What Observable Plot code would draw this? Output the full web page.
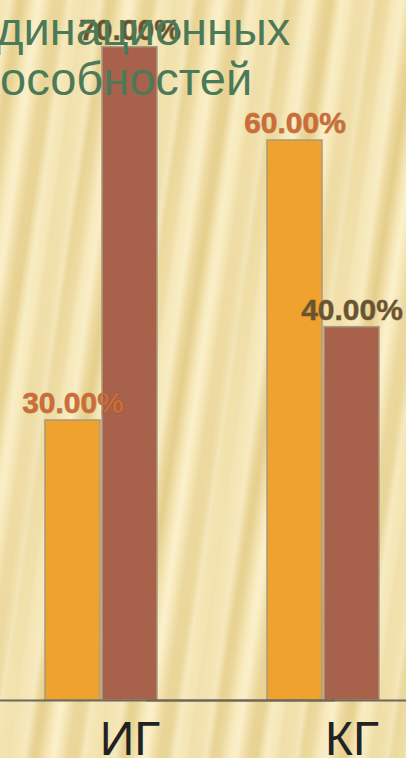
<!DOCTYPE html>
<html><head><meta charset="utf-8">
<script src="https://cdn.jsdelivr.net/npm/d3@7"></script>
<script src="https://cdn.jsdelivr.net/npm/@observablehq/plot@0.6"></script>
<style>
html,body{margin:0;padding:0;width:406px;height:758px;overflow:hidden;}
body{background:
  repeating-linear-gradient(98deg, rgba(255,250,225,0.0) 0px, rgba(255,250,225,0.45) 9px, rgba(255,250,225,0) 16px, rgba(200,170,90,0.12) 23px, rgba(255,250,225,0) 30px),
  repeating-linear-gradient(99deg, #f5e6b5 0px, #eedaa0 12px, #e8d393 20px, #f2e1ab 29px, #f7e9bb 37px, #f5e6b5 44px);}
#wrap{position:relative;width:406px;height:758px;overflow:hidden;}
#chart{position:absolute;left:0;top:0;width:481px;}
#chart svg{max-width:none !important;}
.t{position:absolute;font-family:"Liberation Sans",Arial,sans-serif;font-size:47px;color:#4c7a58;white-space:nowrap;line-height:1;}
</style></head><body>
<div id="wrap"><div id="chart"></div>
<div class="t" id="t1"><span class="pre">коор</span>динационных</div>
<div class="t" id="t2"><span class="pre">сп</span>особностей</div>
</div>
<script>
const groups = ["ИГ", "КГ"];
const slots = ["s1", "s2", "s3"];      // третья позиция в группе пустая
const seriesOrange = [30, 60];
const seriesBrown = [70, 40];

const data = groups.flatMap((g, i) => [
  {g, s: "s1", v: seriesOrange[i]},
  {g, s: "s2", v: seriesBrown[i]}
]);

const labelStyle = {fx: "g", x: "s", y: "v", text: d => d.v.toFixed(2) + "%", dy: -17,
  fontSize: 30, fontWeight: "bold", fontFamily: "Liberation Sans, Arial, sans-serif",
  stroke: "rgba(90,80,60,0.45)", strokeWidth: 1, paintOrder: "stroke"};

const chart = Plot.plot({
  width: 481, height: 758,
  marginLeft: 0, marginRight: 0, marginTop: 0, marginBottom: 58,
  style: {background: "transparent", overflow: "visible", maxWidth: "none"},
  fx: {domain: groups, paddingInner: 0.23, paddingOuter: 0.198, label: null},
  x: {domain: slots, paddingInner: 0.035, paddingOuter: 0, axis: null},
  y: {domain: [0, 75], axis: null},
  color: {domain: ["s1", "s2"], range: ["#efa22e", "#a8614b"]},
  marks: [
    Plot.barY(data, {fx: "g", x: "s", y: "v", fill: "s", stroke: "#a8997f", strokeWidth: 1.5}),
    Plot.ruleY([0], {stroke: "#6e675a", strokeWidth: 2, insetLeft: -120, insetRight: -120}),
    Plot.text(data, {...labelStyle, filter: d => d.s === "s1", fill: "#cf6b34"}),
    Plot.text(data, {...labelStyle, filter: d => d.s === "s2", fill: "#6a5430"}),
    Plot.axisFx({anchor: "bottom", tickSize: 0, tickPadding: 20, fontSize: 48,
      fontFamily: "Liberation Sans, Arial, sans-serif", fill: "#222", label: null})
  ]
});
document.getElementById("chart").append(chart);

for (const [id, top, startX] of [["t1", 4.5, -4], ["t2", 54.5, 0]]) {
  const el = document.getElementById(id);
  const pre = el.querySelector(".pre").getBoundingClientRect().width;
  el.style.left = (startX - pre) + "px";
  el.style.top = top + "px";
}
</script>
</body></html>
